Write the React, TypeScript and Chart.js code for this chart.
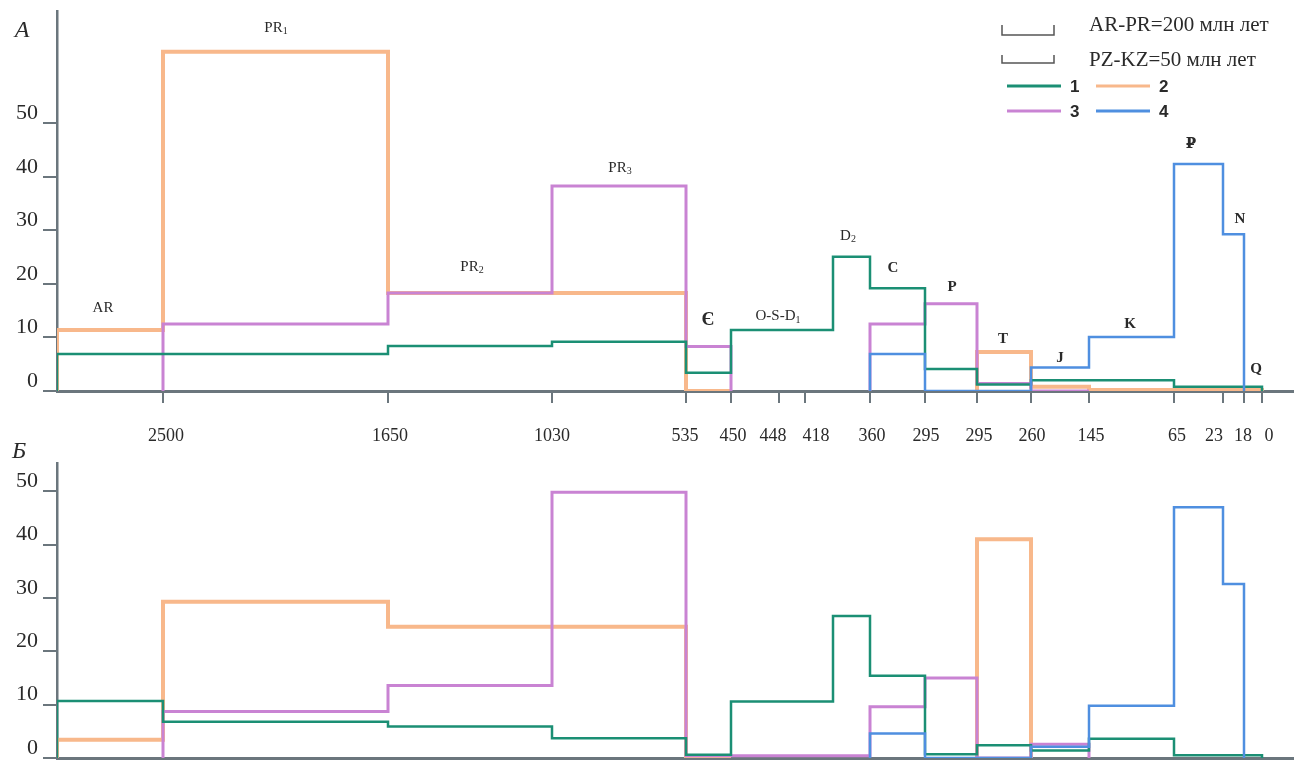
import React, { useEffect, useRef } from "react";
import { Chart, registerables } from "chart.js";

Chart.register(...registerables);

// ---------- schematic time axis (млн лет), axis units ----------
const tickLabels = ["2500", "1650", "1030", "535", "450", "448", "418", "360", "295", "295", "260", "145", "65", "23", "18", "0"];
const tickPos = [10.6, 33.1, 49.5, 62.9, 67.4, 72.2, 74.8, 81.3, 86.8, 92.0, 97.4, 103.2, 111.7, 116.6, 118.7, 120.5];
const labelPos = [10.9, 33.3, 49.5, 62.8, 67.6, 71.6, 75.9, 81.5, 86.9, 92.2, 97.5, 103.4, 112.0, 115.7, 118.6, 121.2];
// boundaries of the periods: AR | PR1 | PR2 | PR3 | Є | O | S | D1 | D2 | C | P | T | J | K | ₽ | N | Q
const segBounds = [0, 10.6, 33.1, 49.5, 62.9, 67.4, 72.2, 74.8, 77.6, 81.3, 86.8, 92.0, 97.4, 103.2, 111.7, 116.6, 118.7, 120.5];
const yTickValues = [0, 10, 20, 30, 40, 50];

// ---------- panel А (values per period) ----------
const a1 = [6.9, 6.9, 8.4, 9.2, 3.4, 11.4, 11.4, 11.4, 25.1, 19.2, 4.1, 1.2, 2.0, 2.0, 0.8, 0.8, 0.8];
const a2 = [11.4, 63.4, 18.3, 18.3, 0, null, null, null, null, null, null, 7.3, 0.8, 0.2, 0.2, 0.2, 0.2];
const a3 = [null, 12.5, 18.3, 38.3, 8.3, null, null, null, null, 12.5, 16.3, 1.4, 0, null, null, null, null];
const a4 = [null, null, null, null, null, null, null, null, null, 6.9, 0, 0, 4.4, 10.1, 42.4, 29.3, null];

// ---------- panel Б ----------
const b1 = [10.7, 6.8, 5.9, 3.7, 0.6, 10.6, 10.6, 10.6, 26.6, 15.4, 0.7, 2.4, 1.4, 3.6, 0.5, 0.5, 0.5];
const b2 = [3.4, 29.3, 24.6, 24.6, 0, null, null, null, null, null, null, 41.0, null, null, null, null, null];
const b3 = [null, 8.7, 13.6, 49.8, 0.4, 0.4, 0.4, 0.4, 0.4, 9.6, 15.0, 0, 2.6, null, null, null, null];
const b4 = [null, null, null, null, null, null, null, null, null, 4.6, 0, 0, 2.1, 9.8, 47.0, 32.6, null];

// ---------- period labels in panel А ----------
const periodNames = ["AR", "PR", "PR", "PR", "Є", "O-S-D", "D", "C", "P", "T", "J", "K", "₽", "N", "Q"];
const periodSubs = ["", "1", "2", "3", "", "1", "2", "", "", "", "", "", "", "", ""];
const periodLabelX = [4.6, 21.9, 41.5, 56.3, 65.1, 72.1, 79.1, 83.6, 89.5, 94.6, 100.3, 107.3, 113.4, 118.3, 119.9];
const periodLabelY = [15.5, 67.9, 23.2, 41.7, 13.3, 14.0, 29.0, 23.0, 19.4, 9.7, 6.2, 12.5, 46.2, 32.1, 4.1];

const seriesNames = ["1", "2", "3", "4"];
const scaleNotes = ["AR-PR=200 млн лет", "PZ-KZ=50 млн лет"];

const COLORS = ["#1b8f74", "#f8b88b", "#c983d3", "#4f8fe0"];
const WIDTHS = [2.5, 4, 3, 2.5];
const ORDERS = [2, 4, 3, 1];
const AXIS = "#6b767d";
const TEXT = "#2a2a2a";
const SERIF = "'Liberation Serif', 'DejaVu Serif', serif";
const SANS = "'Liberation Sans', 'DejaVu Sans', sans-serif";
const X_MAX = 123.7;

function stepPoints(vals: (number | null)[]) {
  const pts: { x: number; y: number | null }[] = [];
  let prevNull = true;
  for (let i = 0; i < vals.length; i++) {
    const v = vals[i];
    if (v === null) {
      if (!prevNull) {
        pts.push({ x: segBounds[i], y: 0 });
        pts.push({ x: segBounds[i], y: null });
      }
      prevNull = true;
      continue;
    }
    if (prevNull) pts.push({ x: segBounds[i], y: 0 });
    pts.push({ x: segBounds[i], y: v });
    prevNull = false;
  }
  if (!prevNull) pts.push({ x: segBounds[vals.length], y: 0 });
  return pts;
}

function makeDatasets(series: (number | null)[][]) {
  return series.map((vals, k) => ({
    label: seriesNames[k],
    data: stepPoints(vals),
    borderColor: COLORS[k],
    borderWidth: WIDTHS[k],
    pointRadius: 0,
    stepped: true,
    fill: false,
    spanGaps: false,
    order: ORDERS[k],
    borderJoinStyle: "miter",
    borderCapStyle: "butt",
  }));
}

function yAxis(max: number) {
  return {
    type: "linear",
    position: "left",
    z: 1,
    min: 0,
    max,
    afterBuildTicks: (s: any) => {
      s.ticks = yTickValues.map((v) => ({ value: v }));
    },
    afterFit: (s: any) => {
      s.width = 57;
      s.paddingTop = 0;
      s.paddingBottom = 0;
    },
    ticks: {
      font: { family: SERIF, size: 22 },
      color: TEXT,
      padding: 5,
      labelOffset: -10,
      autoSkip: false,
    },
    grid: { drawOnChartArea: false, drawTicks: true, tickLength: 14, color: AXIS, lineWidth: 2 },
    border: { display: true, color: AXIS, width: 2.5 },
  };
}

function drawLabel(ctx: CanvasRenderingContext2D, cx: number, cy: number, main: string, sub: string, font: string, subFont: string) {
  ctx.font = font;
  const w1 = ctx.measureText(main).width;
  ctx.font = subFont;
  const w2 = sub ? ctx.measureText(sub).width : 0;
  const x0 = cx - (w1 + w2) / 2;
  ctx.textAlign = "left";
  ctx.textBaseline = "middle";
  ctx.font = font;
  ctx.fillText(main, x0, cy);
  if (sub) {
    ctx.font = subFont;
    ctx.fillText(sub, x0 + w1, cy + 4);
  }
}

const topOverlay = {
  id: "topOverlay",
  afterDraw(chart: any) {
    const ctx: CanvasRenderingContext2D = chart.ctx;
    const xs = chart.scales.x;
    const ys = chart.scales.y;
    ctx.save();
    ctx.fillStyle = TEXT;
    ctx.font = `italic 24px ${SERIF}`;
    ctx.textAlign = "center";
    ctx.textBaseline = "middle";
    ctx.fillText("А", 22, 31);

    periodNames.forEach((n, i) => {
      const single = n.length === 1 && n !== "D";
      const size = n === "Є" ? 19 : 15;
      const font = `${single ? "bold " : ""}${size}px ${SERIF}`;
      drawLabel(ctx, xs.getPixelForValue(periodLabelX[i]), ys.getPixelForValue(periodLabelY[i]), n, periodSubs[i], font, `10px ${SERIF}`);
    });

    // scale notes with brackets
    ctx.strokeStyle = "#555";
    ctx.lineWidth = 1.5;
    const br = [
      [25, 35],
      [55, 63],
    ];
    br.forEach(([t, b], i) => {
      ctx.beginPath();
      ctx.moveTo(1002, t);
      ctx.lineTo(1002, b);
      ctx.lineTo(1054, b);
      ctx.lineTo(1054, t);
      ctx.stroke();
      ctx.font = `21px ${SERIF}`;
      ctx.textAlign = "left";
      ctx.textBaseline = "middle";
      ctx.fillStyle = TEXT;
      ctx.fillText(scaleNotes[i], 1089, i === 0 ? 25 : 60);
    });

    // series legend
    const lx = [1007, 1096, 1007, 1096];
    const ly = [86, 86, 111, 111];
    seriesNames.forEach((name, k) => {
      ctx.strokeStyle = COLORS[k];
      ctx.lineWidth = 3;
      ctx.beginPath();
      ctx.moveTo(lx[k], ly[k]);
      ctx.lineTo(lx[k] + 54, ly[k]);
      ctx.stroke();
      ctx.fillStyle = TEXT;
      ctx.font = `bold 17px ${SANS}`;
      ctx.textAlign = "left";
      ctx.textBaseline = "middle";
      ctx.fillText(name, lx[k] + 63, ly[k] + 1);
    });
    ctx.restore();
  },
};

const bottomOverlay = {
  id: "bottomOverlay",
  afterDraw(chart: any) {
    const ctx: CanvasRenderingContext2D = chart.ctx;
    ctx.save();
    ctx.fillStyle = TEXT;
    ctx.font = `italic 24px ${SERIF}`;
    ctx.textAlign = "center";
    ctx.textBaseline = "middle";
    ctx.fillText("Б", 19, 14);
    ctx.restore();
  },
};

export default function App() {
  const topRef = useRef<HTMLCanvasElement>(null);
  const botRef = useRef<HTMLCanvasElement>(null);

  useEffect(() => {
    const c1 = new Chart(topRef.current as HTMLCanvasElement, {
      type: "line",
      data: { datasets: makeDatasets([a1, a2, a3, a4]) as any },
      options: {
        animation: false,
        responsive: false,
        layout: { padding: { top: 11, left: 0, right: 0, bottom: 0 } },
        plugins: { legend: { display: false }, tooltip: { enabled: false } },
        scales: {
          x: {
            type: "linear",
            position: "bottom",
            weight: 0,
            min: 0,
            max: X_MAX,
            afterBuildTicks: (s: any) => {
              s.ticks = tickPos.map((v) => ({ value: v }));
            },
            afterFit: (s: any) => {
              s.height = 12;
              s.paddingLeft = 0;
              s.paddingRight = 0;
            },
            ticks: { display: false },
            grid: { drawOnChartArea: false, drawTicks: true, tickLength: 12, color: AXIS, lineWidth: 2 },
            border: { display: true, color: AXIS, width: 3 },
          },
          xl: {
            type: "linear",
            position: "bottom",
            weight: 1,
            min: 0,
            max: X_MAX,
            afterBuildTicks: (s: any) => {
              s.ticks = labelPos.map((v) => ({ value: v }));
            },
            afterFit: (s: any) => {
              s.height = 52;
              s.paddingLeft = 0;
              s.paddingRight = 0;
            },
            ticks: {
              autoSkip: false,
              maxRotation: 0,
              padding: 22,
              font: { family: SERIF, size: 18 },
              color: TEXT,
              callback: (_v: any, i: number) => tickLabels[i],
            },
            grid: { display: false, drawTicks: false },
            border: { display: false },
          },
          y: yAxis(71) as any,
        },
      } as any,
      plugins: [topOverlay],
    });

    const c2 = new Chart(botRef.current as HTMLCanvasElement, {
      type: "line",
      data: { datasets: makeDatasets([b1, b2, b3, b4]) as any },
      options: {
        animation: false,
        responsive: false,
        layout: { padding: { top: 25, left: 0, right: 0, bottom: 0 } },
        plugins: { legend: { display: false }, tooltip: { enabled: false } },
        scales: {
          x: {
            type: "linear",
            position: "bottom",
            min: 0,
            max: X_MAX,
            afterFit: (s: any) => {
              s.height = 10;
              s.paddingLeft = 0;
              s.paddingRight = 0;
            },
            ticks: { display: false },
            grid: { drawOnChartArea: false, drawTicks: false },
            border: { display: true, color: AXIS, width: 3 },
          },
          y: yAxis(55.3) as any,
        },
      } as any,
      plugins: [bottomOverlay],
    });

    return () => {
      c1.destroy();
      c2.destroy();
    };
  }, []);

  return (
    <div style={{ position: "absolute", left: 0, top: 0, width: 1294, height: 768, background: "#fff" }}>
      <canvas ref={topRef} width={1294} height={455} style={{ position: "absolute", left: 0, top: 0, display: "block" }} />
      <canvas ref={botRef} width={1294} height={330} style={{ position: "absolute", left: 0, top: 438, display: "block" }} />
    </div>
  );
}
